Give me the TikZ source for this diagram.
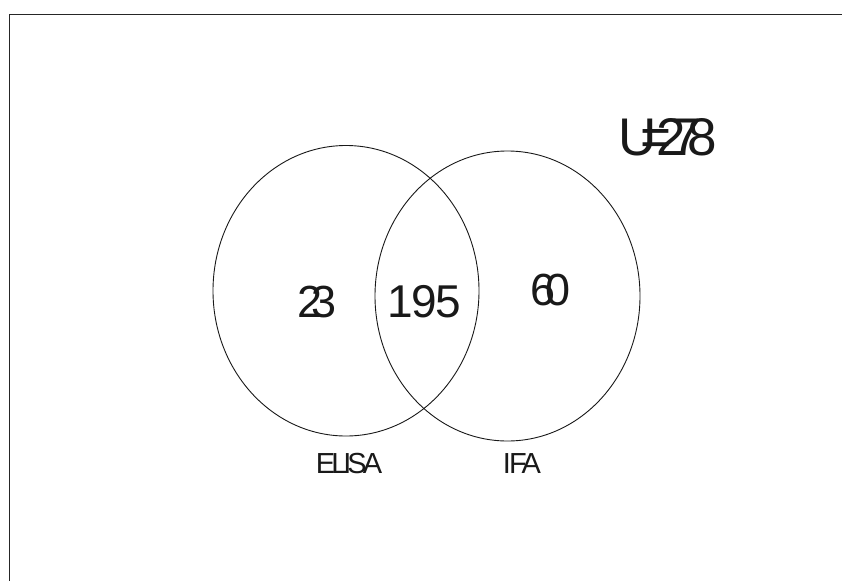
\documentclass[tikz,border=0pt]{standalone}
\usepackage{fontspec}
\setmainfont{Liberation Sans}
\usetikzlibrary{shapes.geometric}
\newcommand{\tk}[1]{\kern-#1pt\relax}
\begin{document}
\begin{tikzpicture}[x=1pt,y=-1pt,
  setring/.style={ellipse,draw=black!90,line width=0.9pt,inner sep=0pt},
  numlabel/.style={anchor=base,inner sep=0pt,text=black!90},
  frameline/.style={draw=black!85,line width=1.6pt}]
\useasboundingbox (0,0) rectangle (842,581);
\fill[white] (0,0) rectangle (842,581);
\coordinate (ftop) at (842,14.5);
\coordinate (fcorner) at (9.5,14.5);
\coordinate (fbot) at (9.5,581);
\draw[frameline] (ftop) -- (fcorner) -- (fbot);
\node[setring,minimum width=266pt,minimum height=290.5pt] (elisa) at (346,290.75) {};
\node[setring,minimum width=265pt,minimum height=290pt] (ifa) at (507.5,296) {};
\node[numlabel] (n23) at (317,317) {\fontsize{45}{50}\selectfont 2\tk{11}3};
\node[numlabel] (n195) at (424,317) {\fontsize{46}{50}\selectfont 1\tk{1}9\tk{2}5};
\node[numlabel] (n60) at (550.5,305) {\fontsize{45}{50}\selectfont 6\tk{11}0};
\node[numlabel] (utot) at (667.5,155) {\fontsize{53}{58}\selectfont U\tk{16}=\tk{15}2\tk{14}7\tk{14}8};
\node[numlabel] (lelisa) at (349,473) {\fontsize{29}{32}\selectfont E\tk{4}L\tk{4}I\tk{4}S\tk{4}A};
\node[numlabel] (lifa) at (522,473) {\fontsize{29}{32}\selectfont I\tk{2}F\tk{5}A};
\end{tikzpicture}
\end{document}
